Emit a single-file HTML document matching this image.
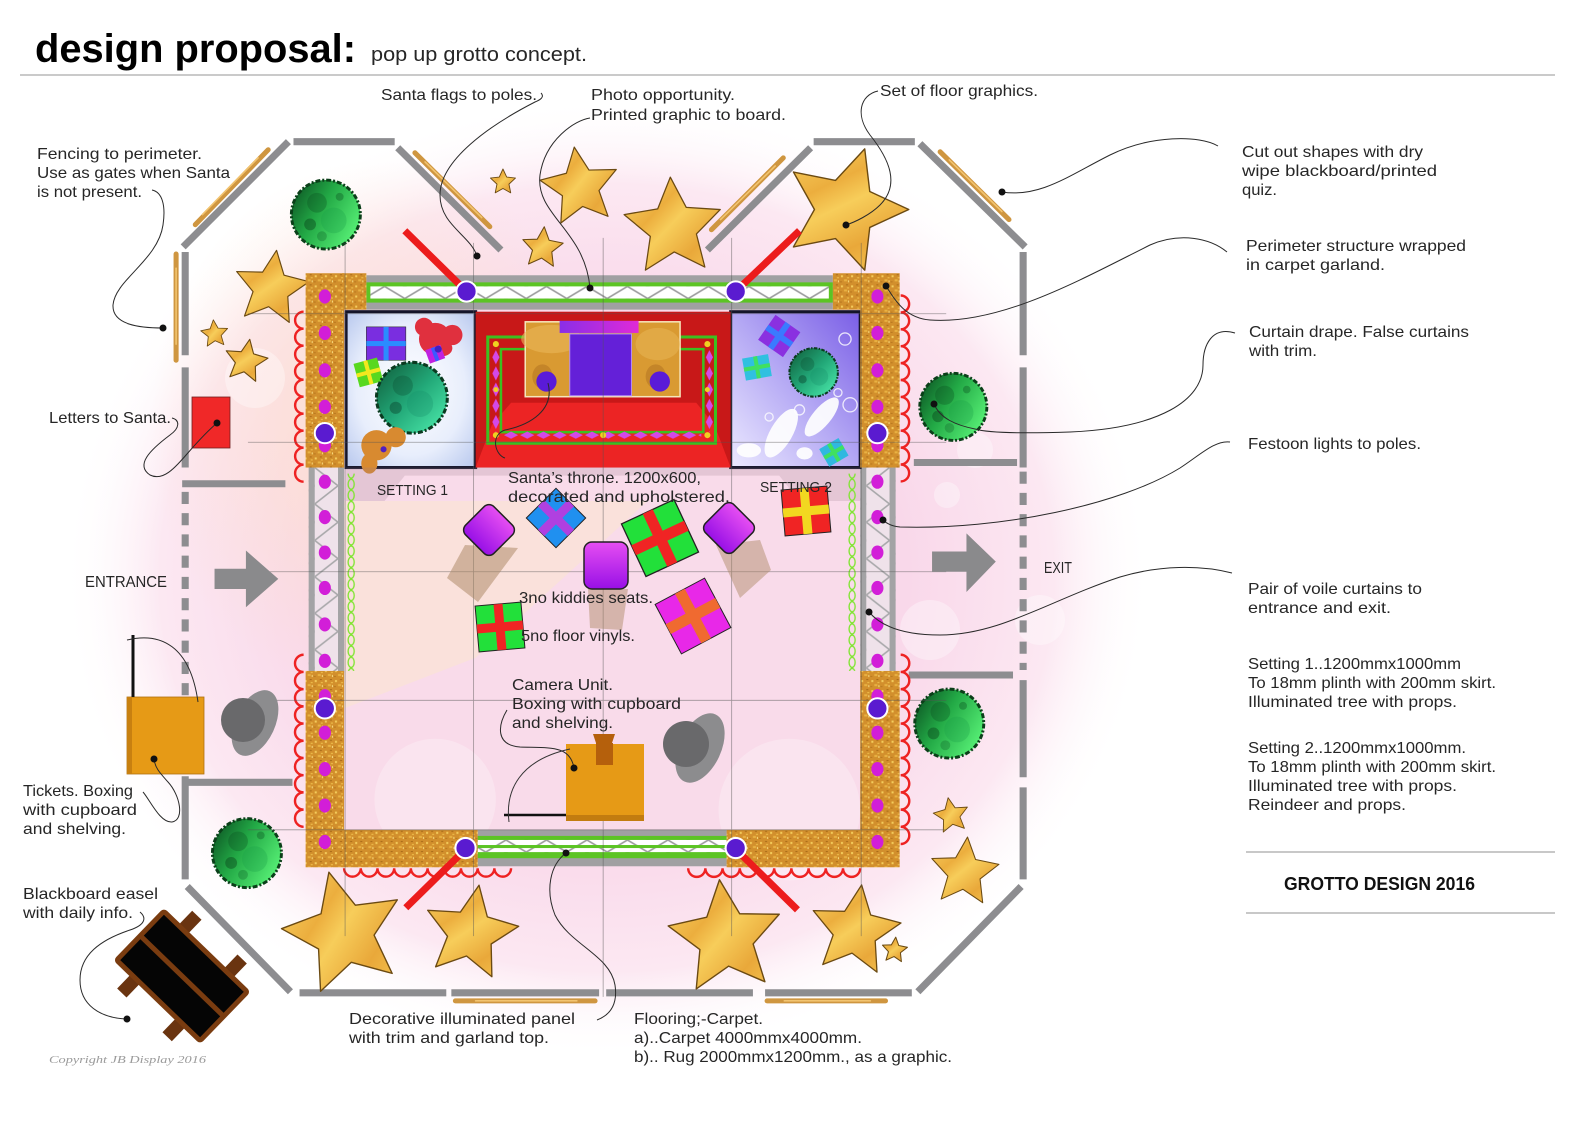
<!DOCTYPE html>
<html><head><meta charset="utf-8"><title>design proposal</title>
<style>
html,body{margin:0;padding:0;background:#fff;width:1587px;height:1122px;overflow:hidden}
svg{display:block}
.t{font-family:"Liberation Sans",Arial,sans-serif;font-size:16px;fill:#262626}
</style></head><body>
<svg xmlns="http://www.w3.org/2000/svg" width="1587" height="1122" viewBox="0 0 1587 1122">
<defs>
<radialGradient id="pg" cx="0.5" cy="0.5" r="0.5">
<stop offset="0" stop-color="#f7d0e5"/>
<stop offset="0.55" stop-color="#f9d8ea"/>
<stop offset="0.82" stop-color="#fce8f2"/>
<stop offset="1" stop-color="#ffffff" stop-opacity="0"/>
</radialGradient>
<radialGradient id="peach" cx="0.5" cy="0.5" r="0.5">
<stop offset="0" stop-color="#fde0cc" stop-opacity="0.9"/>
<stop offset="1" stop-color="#fde0cc" stop-opacity="0"/>
</radialGradient>
<linearGradient id="sg" x1="0" y1="0" x2="1" y2="1">
<stop offset="0" stop-color="#f8d768"/>
<stop offset="0.35" stop-color="#ecae3e"/>
<stop offset="0.5" stop-color="#f7cd5a"/>
<stop offset="0.75" stop-color="#e9a83a"/>
<stop offset="1" stop-color="#f5c652"/>
</linearGradient>
<linearGradient id="tg" x1="0" y1="0.2" x2="1" y2="0.8">
<stop offset="0" stop-color="#0e5a26"/>
<stop offset="0.4" stop-color="#22a845"/>
<stop offset="1" stop-color="#5cf77a"/>
</linearGradient>
<linearGradient id="tg2" x1="0" y1="0" x2="1" y2="1">
<stop offset="0" stop-color="#0f5a38"/>
<stop offset="0.5" stop-color="#22a878"/>
<stop offset="1" stop-color="#50f0b0"/>
</linearGradient>
<radialGradient id="s1g" cx="0.5" cy="0.5" r="0.7">
<stop offset="0" stop-color="#ffffff"/>
<stop offset="0.6" stop-color="#e8eefc"/>
<stop offset="1" stop-color="#b8c8ee"/>
</radialGradient>
<linearGradient id="s2g" x1="0" y1="1" x2="1" y2="0">
<stop offset="0" stop-color="#eceaff"/>
<stop offset="0.5" stop-color="#b4a8f4"/>
<stop offset="1" stop-color="#7a5ee6"/>
</linearGradient>
<linearGradient id="seat" x1="0" y1="0" x2="0" y2="1">
<stop offset="0" stop-color="#e64ef2"/>
<stop offset="1" stop-color="#9810e6"/>
</linearGradient>
<linearGradient id="mbar" x1="0" y1="0" x2="1" y2="0">
<stop offset="0" stop-color="#8a2ee6"/>
<stop offset="1" stop-color="#e02ad8"/>
</linearGradient>
<pattern id="gold" width="10" height="10" patternUnits="userSpaceOnUse">
<rect width="10" height="10" fill="#d28f2c"/>
<rect x="1" y="2" width="2" height="2" fill="#f4cc5c"/>
<rect x="6" y="1" width="2" height="1" fill="#a86a18"/>
<rect x="4" y="6" width="3" height="2" fill="#e9b242"/>
<rect x="8" y="7" width="1" height="2" fill="#f8dc80"/>
<rect x="0" y="8" width="2" height="1" fill="#b8781e"/>
<rect x="7" y="4" width="2" height="1" fill="#f0c24e"/>
</pattern>
<pattern id="zzh" width="40" height="12" patternUnits="userSpaceOnUse" x="0" y="283">
<rect width="40" height="12" fill="#fff"/>
<path d="M0,12 L20,0 L40,12" fill="none" stroke="#9c9c9e" stroke-width="1.6"/>
</pattern>
<pattern id="zzh2" width="40" height="12" patternUnits="userSpaceOnUse" x="0" y="830">
<rect width="40" height="12" fill="#fff"/>
<path d="M0,12 L20,0 L40,12" fill="none" stroke="#9c9c9e" stroke-width="1.6"/>
</pattern>
<pattern id="zzv" width="23" height="36" patternUnits="userSpaceOnUse" x="311" y="462">
<rect width="23" height="36" fill="#efe2ea"/>
<path d="M0,0 L23,18 L0,36" fill="none" stroke="#a8a8aa" stroke-width="1.6"/>
</pattern>
<pattern id="zzv2" width="23" height="36" patternUnits="userSpaceOnUse" x="856" y="462">
<rect width="23" height="36" fill="#efe2ea"/>
<path d="M23,0 L0,18 L23,36" fill="none" stroke="#a8a8aa" stroke-width="1.6"/>
</pattern>
<pattern id="chain" width="8" height="11" patternUnits="userSpaceOnUse" x="343" y="0">
<ellipse cx="4" cy="5.5" rx="3" ry="5" fill="none" stroke="#7ee52e" stroke-width="1.3"/>
</pattern>
<pattern id="chain2" width="8" height="11" patternUnits="userSpaceOnUse" x="838" y="0">
<ellipse cx="4" cy="5.5" rx="3" ry="5" fill="none" stroke="#7ee52e" stroke-width="1.3"/>
</pattern>
<pattern id="dmh" width="16" height="8" patternUnits="userSpaceOnUse" x="497" y="426">
<path d="M1,4 L8,0.5 L15,4 L8,7.5 Z" fill="#d448e8"/>
</pattern>
<pattern id="dmv" width="8" height="16" patternUnits="userSpaceOnUse" x="486" y="345">
<path d="M4,1 L7.5,8 L4,15 L0.5,8 Z" fill="#d448e8"/>
</pattern>
<pattern id="dmv2" width="8" height="16" patternUnits="userSpaceOnUse" x="697" y="345">
<path d="M4,1 L7.5,8 L4,15 L0.5,8 Z" fill="#d448e8"/>
</pattern>
<path id="star" d="M0,-1 L0.282,-0.388 L0.951,-0.309 L0.456,0.148 L0.588,0.809 L0,0.48 L-0.588,0.809 L-0.456,0.148 L-0.951,-0.309 L-0.282,-0.388 Z"/>
<symbol id="tree" viewBox="-38 -38 76 76" overflow="visible">
<circle r="35" fill="url(#tg)" stroke="#0b3f19" stroke-width="3" stroke-dasharray="5 2 2 2"/>
<circle cx="-9" cy="-12" r="10" fill="#0b4a1d" opacity=".3"/>
<circle cx="8" cy="6" r="13" fill="#1aa048" opacity=".3"/>
<circle cx="-16" cy="10" r="6" fill="#083a16" opacity=".4"/>
<circle cx="14" cy="-18" r="4" fill="#0a4a1d" opacity=".35"/>
<circle cx="-4" cy="22" r="5" fill="#0d5a26" opacity=".3"/>
</symbol>
<symbol id="tree2" viewBox="-38 -38 76 76" overflow="visible">
<circle r="35" fill="url(#tg2)" stroke="#0b3a20" stroke-width="3" stroke-dasharray="5 2 2 2"/>
<circle cx="-9" cy="-12" r="10" fill="#0b4a2d" opacity=".3"/>
<circle cx="8" cy="6" r="13" fill="#16906a" opacity=".3"/>
<circle cx="-16" cy="10" r="6" fill="#083a26" opacity=".4"/>
</symbol>
</defs>

<rect width="1587" height="1122" fill="#fff"/>
<ellipse cx="607" cy="578" rx="545" ry="480" fill="url(#pg)"/>
<ellipse cx="380" cy="430" rx="230" ry="270" fill="url(#peach)"/>
<g fill="#fff" opacity="0.35">
<circle cx="947" cy="495" r="13"/><circle cx="975" cy="450" r="18"/><circle cx="255" cy="378" r="30"/>
<circle cx="930" cy="630" r="30"/><circle cx="1040" cy="620" r="25"/><circle cx="560" cy="340" r="40"/>
</g>

<g transform="scale(1.012)">
<rect x="340" y="306" width="510" height="514" fill="#f9dbea"/>
<polygon points="340,495 640,495 470,650 340,700" fill="#f9e3d6" opacity="0.75"/>
<circle cx="430" cy="790" r="60" fill="#fff" opacity="0.25"/>
<circle cx="780" cy="800" r="70" fill="#fff" opacity="0.25"/>

<g stroke="#8d8d90" stroke-width="7" fill="none">
<line x1="181" y1="244" x2="285" y2="140"/>
<line x1="290" y1="140" x2="390" y2="140"/>
<line x1="393" y1="146" x2="495" y2="247"/>
<line x1="699" y1="247" x2="801" y2="146"/>
<line x1="804" y1="140" x2="904" y2="140"/>
<line x1="909" y1="142" x2="1013" y2="244"/>
<line x1="183" y1="249" x2="183" y2="351"/>
<line x1="183" y1="363" x2="183" y2="462"/>
<line x1="180" y1="478" x2="282" y2="478"/>
<line x1="183" y1="486" x2="183" y2="700" stroke-dasharray="12 9"/>
<line x1="186" y1="773" x2="289" y2="773"/>
<line x1="183" y1="767" x2="183" y2="869"/>
<line x1="185" y1="876" x2="287" y2="980"/>
<line x1="296" y1="981" x2="441" y2="981"/>
<line x1="446" y1="981" x2="592" y2="981"/>
<line x1="599" y1="981" x2="744" y2="981"/>
<line x1="756" y1="981" x2="901" y2="981"/>
<line x1="1009" y1="876" x2="907" y2="980"/>
<line x1="1011" y1="249" x2="1011" y2="351"/>
<line x1="1011" y1="363" x2="1011" y2="462"/>
<line x1="903" y1="457" x2="1005" y2="457"/>
<line x1="1011" y1="466" x2="1011" y2="662" stroke-dasharray="12 9"/>
<line x1="898" y1="667" x2="1001" y2="667"/>
<line x1="1011" y1="672" x2="1011" y2="768"/>
<line x1="1011" y1="778" x2="1011" y2="869"/>
</g>
<g stroke="#cf9640" stroke-width="5" stroke-linecap="round">
<line x1="193" y1="222" x2="265" y2="148"/>
<line x1="174" y1="251" x2="174" y2="356"/>
<line x1="410" y1="151" x2="484" y2="224"/>
<line x1="703" y1="227" x2="774" y2="156"/>
<line x1="929" y1="150" x2="997" y2="217"/>
<line x1="450" y1="989" x2="588" y2="989"/>
<line x1="758" y1="989" x2="875" y2="989"/>
</g>
<g stroke="#f2c470" stroke-width="1.6" stroke-linecap="round">
<line x1="200" y1="212" x2="255" y2="156"/>
<line x1="174" y1="265" x2="174" y2="340"/>
<line x1="420" y1="160" x2="476" y2="215"/>
<line x1="712" y1="217" x2="766" y2="164"/>
<line x1="938" y1="158" x2="990" y2="209"/>
<line x1="470" y1="989" x2="570" y2="989"/>
<line x1="775" y1="989" x2="860" y2="989"/>
</g>

<g fill="url(#sg)" stroke="#6b4a12" stroke-linejoin="round">
<use href="#star" stroke-width="0.03" transform="translate(268,285) rotate(8) scale(38)"/>
<use href="#star" stroke-width="0.06" transform="translate(212,330) rotate(-5) scale(14)"/>
<use href="#star" stroke-width="0.05" transform="translate(243,357) rotate(10) scale(22)"/>
<use href="#star" stroke-width="0.07" transform="translate(497,180) rotate(0) scale(13)"/>
<use href="#star" stroke-width="0.03" transform="translate(573,185) rotate(-8) scale(40)"/>
<use href="#star" stroke-width="0.05" transform="translate(536,245) rotate(5) scale(21)"/>
<use href="#star" stroke-width="0.025" transform="translate(665,225) rotate(-3) scale(50)"/>
<use href="#star" stroke-width="0.022" transform="translate(835,207) rotate(18) scale(63)"/>
<use href="#star" stroke-width="0.05" transform="translate(940,806) rotate(-10) scale(18)"/>
<use href="#star" stroke-width="0.03" transform="translate(953,862) rotate(5) scale(35)"/>
</g>

<use href="#tree" x="285" y="175" width="74" height="74"/>
<use href="#tree" x="906" y="366" width="72" height="72"/>
<use href="#tree" x="901" y="678" width="74" height="74"/>
<use href="#tree" x="207" y="806" width="74" height="74"/>

<rect x="305" y="460" width="35" height="205" fill="url(#zzv)"/>
<rect x="305" y="460" width="6" height="205" fill="#a3a3a5"/>
<rect x="334" y="460" width="6" height="205" fill="#a3a3a5"/>
<rect x="850" y="460" width="35" height="205" fill="url(#zzv2)"/>
<rect x="850" y="460" width="6" height="205" fill="#a3a3a5"/>
<rect x="879" y="460" width="6" height="205" fill="#a3a3a5"/>

<rect x="362" y="272" width="461" height="34" fill="#a0a0a2"/>
<rect x="362" y="279" width="461" height="20" fill="#5cc424"/>
<rect x="366" y="283" width="453" height="12" fill="url(#zzh)"/>
<rect x="472" y="820" width="246" height="36" fill="#a0a0a2"/>
<rect x="472" y="826" width="246" height="22" fill="#5cc424"/>
<rect x="472" y="830" width="246" height="12" fill="url(#zzh2)"/>
<rect x="472" y="835" width="246" height="3" fill="#5cc424"/>

<rect x="342" y="308" width="128" height="154" fill="url(#s1g)" stroke="#15152a" stroke-width="3"/>
<rect x="722" y="308" width="128" height="154" fill="url(#s2g)" stroke="#15152a" stroke-width="3"/>
<rect x="470" y="308" width="252" height="154" fill="#c81818"/>
<polygon points="470,462 722,462 706,420 688,398 505,398 486,420" fill="#ec2424"/>
<rect x="482" y="333" width="225" height="105" fill="none" stroke="#3cc020" stroke-width="3"/>
<rect x="495" y="345" width="200" height="82" fill="none" stroke="#3cc020" stroke-width="2.5"/>
<rect x="497" y="426" width="196" height="8" fill="url(#dmh)"/>
<rect x="486" y="345" width="8" height="82" fill="url(#dmv)"/>
<rect x="697" y="345" width="8" height="82" fill="url(#dmv2)"/>
<g fill="#f0d020"><circle cx="490" cy="340" r="3"/><circle cx="699" cy="340" r="3"/><circle cx="490" cy="430" r="3"/><circle cx="699" cy="430" r="3"/><circle cx="596" cy="430" r="3"/><circle cx="490" cy="385" r="2.5"/><circle cx="699" cy="385" r="2.5"/></g>
<rect x="519" y="318" width="153" height="74" fill="#d99a32" stroke="#f6e6bc" stroke-width="1.5"/>
<ellipse cx="545" cy="335" rx="30" ry="14" fill="#eab858" opacity=".6"/>
<ellipse cx="650" cy="340" rx="22" ry="16" fill="#eab858" opacity=".5"/>
<rect x="563" y="330" width="61" height="61" fill="#6420d8" stroke="#b58af2" stroke-width="1"/>
<rect x="553" y="317" width="78" height="12" fill="url(#mbar)"/>
<ellipse cx="536" cy="372" rx="10" ry="12" fill="#b07020" opacity=".5"/>
<ellipse cx="648" cy="372" rx="10" ry="12" fill="#b07020" opacity=".5"/>
<circle cx="540" cy="377" r="10" fill="#5a1bd8"/>
<circle cx="652" cy="377" r="10" fill="#5a1bd8"/>

<rect x="362" y="323" width="39" height="33" fill="#7a2ee0" stroke="#333" stroke-width="0.6"/>
<rect x="379" y="323" width="5" height="33" fill="#2a8cff"/>
<rect x="362" y="337" width="39" height="5" fill="#2a8cff"/>
<g fill="#e0303e"><circle cx="430" cy="335" r="16"/><circle cx="419" cy="323" r="9"/><circle cx="447" cy="331" r="10"/><ellipse cx="437" cy="344" rx="10" ry="8"/></g>
<g transform="translate(430,350) rotate(-20)"><rect x="-8" y="-7" width="16" height="14" fill="#c020e0"/><rect x="-2" y="-7" width="4" height="14" fill="#3a5aff"/></g>
<circle cx="433" cy="345" r="3.5" fill="#4020c0"/>
<g transform="translate(364,368) rotate(-15)"><rect x="-12" y="-12" width="24" height="24" fill="#58d820"/><rect x="-2" y="-12" width="4" height="24" fill="#f2e81e"/><rect x="-12" y="-2" width="24" height="4" fill="#f2e81e"/></g>
<use href="#tree2" x="369" y="355" width="76" height="76"/>
<g fill="#d88a30"><circle cx="372" cy="440" r="15"/><circle cx="391" cy="432" r="10"/><ellipse cx="365" cy="458" rx="8" ry="10"/></g>
<circle cx="379" cy="444" r="3" fill="#5020c0"/>

<g fill="none" stroke="#fff" stroke-width="1.3" opacity=".8"><circle cx="835" cy="335" r="6"/><circle cx="840" cy="400" r="7"/><circle cx="790" cy="405" r="5"/><circle cx="828" cy="388" r="4"/><circle cx="760" cy="412" r="4"/></g>
<g transform="translate(770,332) rotate(35)"><rect x="-15" y="-15" width="30" height="30" fill="#8a30e0"/><rect x="-3" y="-15" width="6" height="30" fill="#3a7aff"/><rect x="-15" y="-3" width="30" height="6" fill="#3a7aff"/></g>
<g transform="translate(748,363) rotate(-10)"><rect x="-13" y="-11" width="26" height="22" fill="#30c0e0"/><rect x="-2" y="-11" width="4" height="22" fill="#40e060"/><rect x="-13" y="-2" width="26" height="4" fill="#40e060"/></g>
<use href="#tree2" x="778" y="342" width="52" height="52"/>
<g fill="#fff" opacity=".92">
<ellipse cx="772" cy="428" rx="11" ry="27" transform="rotate(30 772 428)"/>
<ellipse cx="812" cy="412" rx="9" ry="24" transform="rotate(40 812 412)"/>
<ellipse cx="740" cy="445" rx="12" ry="7"/>
<ellipse cx="795" cy="448" rx="8" ry="6"/>
</g>
<g transform="translate(824,447) rotate(-30)"><rect x="-11" y="-10" width="22" height="20" fill="#30b8e0"/><rect x="-2" y="-10" width="4" height="20" fill="#40e060"/><rect x="-11" y="-2" width="22" height="4" fill="#40e060"/></g>

<polygon points="342,462 850,462 850,495 790,495 770,470 400,470 380,495 342,495" fill="#9c7a8c" opacity=".22"/>

<rect x="343" y="468" width="8" height="195" fill="url(#chain)"/>
<rect x="838" y="468" width="8" height="195" fill="url(#chain2)"/>

<g fill="url(#gold)">
<rect x="302" y="270" width="38" height="192"/>
<rect x="338" y="270" width="24" height="36"/>
<rect x="850" y="270" width="39" height="192"/>
<rect x="823" y="270" width="29" height="36"/>
<rect x="302" y="663" width="38" height="194"/>
<rect x="338" y="820" width="134" height="37"/>
<rect x="850" y="663" width="39" height="194"/>
<rect x="718" y="820" width="134" height="37"/>
</g>

<g fill="none" stroke="#ee2222" stroke-width="2.4">
<path d="M300,308 a8.4,8.4 0 0 0 0,16.8 a8.4,8.4 0 0 0 0,16.8 a8.4,8.4 0 0 0 0,16.8 a8.4,8.4 0 0 0 0,16.8 a8.4,8.4 0 0 0 0,16.8 a8.4,8.4 0 0 0 0,16.8 a8.4,8.4 0 0 0 0,16.8 a8.4,8.4 0 0 0 0,16.8 a8.4,8.4 0 0 0 0,16.8 a8.4,8.4 0 0 0 0,16.8"/>
<path d="M300,647 a8.5,8.5 0 0 0 0,17 a8.5,8.5 0 0 0 0,17 a8.5,8.5 0 0 0 0,17 a8.5,8.5 0 0 0 0,17 a8.5,8.5 0 0 0 0,17 a8.5,8.5 0 0 0 0,17 a8.5,8.5 0 0 0 0,17 a8.5,8.5 0 0 0 0,17 a8.5,8.5 0 0 0 0,17 a8.5,8.5 0 0 0 0,17"/>
<path d="M890,292 a8.35,8.35 0 0 1 0,16.7 a8.35,8.35 0 0 1 0,16.7 a8.35,8.35 0 0 1 0,16.7 a8.35,8.35 0 0 1 0,16.7 a8.35,8.35 0 0 1 0,16.7 a8.35,8.35 0 0 1 0,16.7 a8.35,8.35 0 0 1 0,16.7 a8.35,8.35 0 0 1 0,16.7 a8.35,8.35 0 0 1 0,16.7 a8.35,8.35 0 0 1 0,16.7 a8.35,8.35 0 0 1 0,16.7"/>
<path d="M890,647 a8.5,8.5 0 0 1 0,17 a8.5,8.5 0 0 1 0,17 a8.5,8.5 0 0 1 0,17 a8.5,8.5 0 0 1 0,17 a8.5,8.5 0 0 1 0,17 a8.5,8.5 0 0 1 0,17 a8.5,8.5 0 0 1 0,17 a8.5,8.5 0 0 1 0,17 a8.5,8.5 0 0 1 0,17 a8.5,8.5 0 0 1 0,17 a8.5,8.5 0 0 1 0,17"/>
<path d="M340,858 a8.25,8.25 0 0 0 16.5,0 a8.25,8.25 0 0 0 16.5,0 a8.25,8.25 0 0 0 16.5,0 a8.25,8.25 0 0 0 16.5,0 a8.25,8.25 0 0 0 16.5,0 a8.25,8.25 0 0 0 16.5,0 a8.25,8.25 0 0 0 16.5,0 a8.25,8.25 0 0 0 16.5,0 a8.25,8.25 0 0 0 16.5,0 a8.25,8.25 0 0 0 16.5,0"/>
<path d="M680,858 a8.5,8.5 0 0 0 17,0 a8.5,8.5 0 0 0 17,0 a8.5,8.5 0 0 0 17,0 a8.5,8.5 0 0 0 17,0 a8.5,8.5 0 0 0 17,0 a8.5,8.5 0 0 0 17,0 a8.5,8.5 0 0 0 17,0 a8.5,8.5 0 0 0 17,0 a8.5,8.5 0 0 0 17,0 a8.5,8.5 0 0 0 17,0"/>
</g>

<g fill="#d21ed8">
<ellipse cx="321" cy="293" rx="6" ry="7"/><ellipse cx="321" cy="329" rx="6" ry="7"/><ellipse cx="321" cy="366" rx="6" ry="7"/><ellipse cx="321" cy="402" rx="6" ry="7"/><ellipse cx="321" cy="440" rx="6" ry="7"/><ellipse cx="321" cy="476" rx="6" ry="7"/><ellipse cx="321" cy="511" rx="6" ry="7"/><ellipse cx="321" cy="546" rx="6" ry="7"/><ellipse cx="321" cy="581" rx="6" ry="7"/><ellipse cx="321" cy="617" rx="6" ry="7"/><ellipse cx="321" cy="653" rx="6" ry="7"/><ellipse cx="321" cy="688" rx="6" ry="7"/><ellipse cx="321" cy="724" rx="6" ry="7"/><ellipse cx="321" cy="760" rx="6" ry="7"/><ellipse cx="321" cy="796" rx="6" ry="7"/><ellipse cx="321" cy="832" rx="6" ry="7"/>
<ellipse cx="867" cy="293" rx="6" ry="7"/><ellipse cx="867" cy="329" rx="6" ry="7"/><ellipse cx="867" cy="366" rx="6" ry="7"/><ellipse cx="867" cy="402" rx="6" ry="7"/><ellipse cx="867" cy="440" rx="6" ry="7"/><ellipse cx="867" cy="476" rx="6" ry="7"/><ellipse cx="867" cy="511" rx="6" ry="7"/><ellipse cx="867" cy="546" rx="6" ry="7"/><ellipse cx="867" cy="581" rx="6" ry="7"/><ellipse cx="867" cy="617" rx="6" ry="7"/><ellipse cx="867" cy="653" rx="6" ry="7"/><ellipse cx="867" cy="688" rx="6" ry="7"/><ellipse cx="867" cy="724" rx="6" ry="7"/><ellipse cx="867" cy="760" rx="6" ry="7"/><ellipse cx="867" cy="796" rx="6" ry="7"/><ellipse cx="867" cy="832" rx="6" ry="7"/>
</g>

<g fill="url(#sg)" stroke="#6b4a12" stroke-linejoin="round">
<use href="#star" stroke-width="0.022" transform="translate(340,922) rotate(-14) scale(62)"/>
<use href="#star" stroke-width="0.028" transform="translate(465,922) rotate(10) scale(48)"/>
<use href="#star" stroke-width="0.024" transform="translate(717,927) rotate(-6) scale(58)"/>
<use href="#star" stroke-width="0.028" transform="translate(845,920) rotate(8) scale(46)"/>
<use href="#star" stroke-width="0.08" transform="translate(884,939) rotate(5) scale(13)"/>
</g>

<g stroke="#555" stroke-width="0.8" opacity="0.55">
<line x1="341" y1="240" x2="341" y2="925"/>
<line x1="468" y1="240" x2="468" y2="925"/>
<line x1="596" y1="235" x2="596" y2="985"/>
<line x1="723" y1="235" x2="723" y2="925"/>
<line x1="851" y1="240" x2="851" y2="925"/>
<line x1="245" y1="310" x2="935" y2="310"/>
<line x1="245" y1="437" x2="935" y2="437"/>
<line x1="245" y1="565" x2="935" y2="565"/>
<line x1="245" y1="692" x2="935" y2="692"/>
<line x1="245" y1="820" x2="935" y2="820"/>
</g>

<polygon points="212,562 243,562 243,544 275,572 243,600 243,582 212,582" fill="#8a8a8c"/>
<polygon points="921,545 955,545 955,527 984,555 955,585 955,565 921,565" fill="#8a8a8c"/>

<g stroke="#ec1c1c" stroke-width="7">
<line x1="461" y1="288" x2="400" y2="228"/>
<line x1="727" y1="288" x2="790" y2="228"/>
<line x1="456" y1="843" x2="401" y2="897"/>
<line x1="731" y1="843" x2="788" y2="899"/>
</g>
<g fill="#5a1bd0" stroke="#fff" stroke-width="2">
<circle cx="461" cy="288" r="10"/><circle cx="727" cy="288" r="10"/>
<circle cx="321" cy="428" r="10"/><circle cx="867" cy="428" r="10"/>
<circle cx="321" cy="700" r="10"/><circle cx="867" cy="700" r="10"/>
<circle cx="460" cy="838" r="10"/><circle cx="727" cy="838" r="10"/>
</g>
</g>

<polygon points="465,545 518,548 478,602 447,578" fill="#a88460" opacity=".5"/>
<polygon points="716,545 760,540 771,570 740,598" fill="#a88460" opacity=".45"/>
<polygon points="588,589 628,589 622,630 590,628" fill="#a88460" opacity=".45"/>
<g transform="translate(489,530) rotate(45)"><rect x="-20" y="-20" width="40" height="40" rx="7" fill="url(#seat)" stroke="#222" stroke-width="1.5"/></g>
<g transform="translate(729,528) rotate(45)"><rect x="-20" y="-20" width="40" height="40" rx="7" fill="url(#seat)" stroke="#222" stroke-width="1.5"/></g>
<rect x="584" y="542" width="44" height="47" rx="8" fill="url(#seat)" stroke="#222" stroke-width="1.5"/>
<g transform="translate(556,518) rotate(45)"><rect x="-21" y="-21" width="42" height="42" fill="#2090f0" stroke="#222" stroke-width="1"/><rect x="-4.5" y="-21" width="9" height="42" fill="#b040e0"/><rect x="-21" y="-4.5" width="42" height="9" fill="#b040e0"/></g>
<g transform="translate(660,538) rotate(-25)"><rect x="-29" y="-29" width="58" height="58" fill="#22e03a" stroke="#222" stroke-width="1.3"/><rect x="-5.5" y="-29" width="11" height="58" fill="#f02424"/><rect x="-29" y="-5.5" width="58" height="11" fill="#f02424"/></g>
<g transform="translate(806,511) rotate(-5)"><rect x="-23" y="-23" width="46" height="46" fill="#f02424" stroke="#222" stroke-width="1"/><rect x="-4.5" y="-23" width="9" height="46" fill="#f2d820"/><rect x="-23" y="-4.5" width="46" height="9" fill="#f2d820"/></g>
<g transform="translate(500,627) rotate(-5)"><rect x="-23" y="-23" width="46" height="46" fill="#22e03a" stroke="#222" stroke-width="1"/><rect x="-4.5" y="-23" width="9" height="46" fill="#f02424"/><rect x="-23" y="-4.5" width="46" height="9" fill="#f02424"/></g>
<g transform="translate(693,616) rotate(-28)"><rect x="-28" y="-28" width="56" height="56" fill="#e828e8" stroke="#222" stroke-width="1"/><rect x="-5.5" y="-28" width="11" height="56" fill="#f06a30"/><rect x="-28" y="-5.5" width="56" height="11" fill="#f06a30"/></g>

<rect x="566" y="744" width="78" height="77" fill="#e69a16"/>
<rect x="566" y="815" width="78" height="6" fill="#c27c10"/>
<polygon points="593,734 615,734 612,743 596,743" fill="#b5600c"/>
<rect x="596" y="743" width="17" height="22" fill="#b5600c"/>
<line x1="504" y1="815" x2="566" y2="815" stroke="#111" stroke-width="2.5"/>
<path d="M509,822 C505,790 520,760 570,749" fill="none" stroke="#333" stroke-width="1"/>
<ellipse cx="700" cy="748" rx="21" ry="37" transform="rotate(25 700 748)" fill="#8c8c8e"/>
<circle cx="686" cy="744" r="23" fill="#69696b"/>
<ellipse cx="255" cy="723" rx="20" ry="35" transform="rotate(25 255 723)" fill="#8c8c8e"/>
<circle cx="243" cy="720" r="22" fill="#69696b"/>

<rect x="127" y="697" width="77" height="77" fill="#e69a16" stroke="#b07010" stroke-width="0.8"/>
<rect x="127" y="697" width="5" height="77" fill="#c88010"/>
<line x1="133" y1="635" x2="133" y2="697" stroke="#111" stroke-width="3"/>
<rect x="192" y="397" width="38" height="51" fill="#f02828" stroke="#702020" stroke-width="0.8"/>
<g transform="translate(182,976) rotate(44)">
<rect x="-38" y="-54" width="13" height="108" fill="#6a3410"/>
<rect x="25" y="-54" width="13" height="108" fill="#6a3410"/>
<rect x="-58" y="-34" width="116" height="68" rx="2" fill="#050505" stroke="#7a3c10" stroke-width="5"/>
<line x1="-58" y1="0" x2="58" y2="0" stroke="#7a3c10" stroke-width="5"/>
</g>

<g fill="none" stroke="#2a2a2a" stroke-width="1">
<path d="M541,93 C545,97 540,100 535,102 C490,125 440,160 440,195 C440,225 470,235 477,256"/>
<path d="M590,118 C575,120 545,140 540,175 C535,215 585,230 590,288"/>
<path d="M878,91 C860,95 855,115 870,135 C890,160 900,185 880,205 C870,215 855,222 846,225"/>
<path d="M1218,146 C1200,135 1150,135 1110,155 C1070,175 1040,198 1002,192"/>
<path d="M1227,252 C1210,238 1180,232 1150,245 C1080,280 1000,325 930,320 C905,318 895,300 886,286"/>
<path d="M1235,333 C1212,326 1203,345 1203,365 C1203,400 1160,428 1070,432 C1010,434 985,432 975,429 C955,425 940,418 934,404"/>
<path d="M1230,442 C1215,440 1200,455 1180,468 C1120,505 1000,530 900,527 C890,526 885,522 883,520"/>
<path d="M1232,573 C1200,565 1160,565 1120,577 C1050,600 1000,635 940,635 C900,635 880,625 869,612"/>
<path d="M152,190 C162,192 166,205 163,225 C158,260 115,280 113,305 C112,325 140,328 163,328"/>
<path d="M172,418 C180,420 180,428 170,435 C150,450 135,465 150,475 C170,485 185,450 217,423"/>
<path d="M143,792 C150,800 160,823 172,822 C185,820 180,795 168,782 C160,773 155,768 154,759"/>
<path d="M127,640 C160,632 190,645 198,702"/>
<path d="M140,912 C147,918 145,925 130,930 C100,940 80,955 80,980 C80,1005 100,1018 127,1019"/>
<path d="M597,1020 C610,1015 618,1005 615,985 C610,955 570,945 555,915 C545,890 550,865 566,853"/>
<path d="M507,710 C498,725 495,745 520,747 C550,748 570,745 574,768"/>
<path d="M548,383 C555,410 530,425 505,430 C490,435 495,455 505,458"/>
</g>
<g fill="#111">
<circle cx="477" cy="256" r="3.5"/><circle cx="590" cy="288" r="3.5"/><circle cx="846" cy="225" r="3.5"/>
<circle cx="1002" cy="192" r="3.5"/><circle cx="886" cy="286" r="3.5"/><circle cx="934" cy="404" r="3.5"/>
<circle cx="883" cy="520" r="3.5"/><circle cx="869" cy="612" r="3.5"/><circle cx="163" cy="328" r="3.5"/>
<circle cx="217" cy="423" r="3.5"/><circle cx="154" cy="759" r="3.5"/><circle cx="127" cy="1019" r="3.5"/>
<circle cx="566" cy="853" r="3.5"/><circle cx="574" cy="768" r="3.5"/>
</g>

<text x="35" y="62" font-family="Liberation Sans, Arial, sans-serif" font-weight="bold" font-size="40" fill="#000" textLength="321" lengthAdjust="spacingAndGlyphs">design proposal:</text>
<text x="371" y="61" class="t" textLength="216" lengthAdjust="spacingAndGlyphs" style="font-size:20px">pop up grotto concept.</text>
<line x1="20" y1="75" x2="1555" y2="75" stroke="#b8b8b8" stroke-width="1.5"/>

<g>
<text class="t" x="381" y="100" textLength="156" lengthAdjust="spacingAndGlyphs">Santa flags to poles.</text>
<text class="t" x="591" y="100" textLength="144" lengthAdjust="spacingAndGlyphs">Photo opportunity.</text>
<text class="t" x="591" y="120" textLength="195" lengthAdjust="spacingAndGlyphs">Printed graphic to board.</text>
<text class="t" x="880" y="96" textLength="158" lengthAdjust="spacingAndGlyphs">Set of floor graphics.</text>
<text class="t" x="37" y="159" textLength="165" lengthAdjust="spacingAndGlyphs">Fencing to perimeter.</text>
<text class="t" x="37" y="178" textLength="193" lengthAdjust="spacingAndGlyphs">Use as gates when Santa</text>
<text class="t" x="37" y="197" textLength="105" lengthAdjust="spacingAndGlyphs">is not present.</text>
<text class="t" x="49" y="423" textLength="122" lengthAdjust="spacingAndGlyphs">Letters to Santa.</text>
<text class="t" x="85" y="587" textLength="82" lengthAdjust="spacingAndGlyphs">ENTRANCE</text>
<text class="t" x="1044" y="573" textLength="28" lengthAdjust="spacingAndGlyphs">EXIT</text>
<text class="t" x="23" y="796" textLength="110" lengthAdjust="spacingAndGlyphs">Tickets. Boxing</text>
<text class="t" x="23" y="815" textLength="114" lengthAdjust="spacingAndGlyphs">with cupboard</text>
<text class="t" x="23" y="834" textLength="103" lengthAdjust="spacingAndGlyphs">and shelving.</text>
<text class="t" x="23" y="899" textLength="135" lengthAdjust="spacingAndGlyphs">Blackboard easel</text>
<text class="t" x="23" y="918" textLength="110" lengthAdjust="spacingAndGlyphs">with daily info.</text>
<text x="49" y="1063" font-family="Liberation Serif, serif" font-style="italic" font-size="11" fill="#9a9a9a" textLength="157" lengthAdjust="spacingAndGlyphs">Copyright JB Display 2016</text>
<text class="t" x="349" y="1024" textLength="226" lengthAdjust="spacingAndGlyphs">Decorative illuminated panel</text>
<text class="t" x="349" y="1043" textLength="200" lengthAdjust="spacingAndGlyphs">with trim and garland top.</text>
<text class="t" x="634" y="1024" textLength="129" lengthAdjust="spacingAndGlyphs">Flooring;-Carpet.</text>
<text class="t" x="634" y="1043" textLength="228" lengthAdjust="spacingAndGlyphs">a)..Carpet 4000mmx4000mm.</text>
<text class="t" x="634" y="1062" textLength="318" lengthAdjust="spacingAndGlyphs">b).. Rug 2000mmx1200mm., as a graphic.</text>

<text class="t" x="1242" y="157" textLength="181" lengthAdjust="spacingAndGlyphs">Cut out shapes with dry</text>
<text class="t" x="1242" y="176" textLength="195" lengthAdjust="spacingAndGlyphs">wipe blackboard/printed</text>
<text class="t" x="1242" y="195" textLength="35" lengthAdjust="spacingAndGlyphs">quiz.</text>
<text class="t" x="1246" y="251" textLength="220" lengthAdjust="spacingAndGlyphs">Perimeter structure wrapped</text>
<text class="t" x="1246" y="270" textLength="139" lengthAdjust="spacingAndGlyphs">in carpet garland.</text>
<text class="t" x="1249" y="337" textLength="220" lengthAdjust="spacingAndGlyphs">Curtain drape. False curtains</text>
<text class="t" x="1249" y="356" textLength="68" lengthAdjust="spacingAndGlyphs">with trim.</text>
<text class="t" x="1248" y="449" textLength="173" lengthAdjust="spacingAndGlyphs">Festoon lights to poles.</text>
<text class="t" x="1248" y="594" textLength="174" lengthAdjust="spacingAndGlyphs">Pair of voile curtains to</text>
<text class="t" x="1248" y="613" textLength="143" lengthAdjust="spacingAndGlyphs">entrance and exit.</text>
<text class="t" x="1248" y="669" textLength="213" lengthAdjust="spacingAndGlyphs">Setting 1..1200mmx1000mm</text>
<text class="t" x="1248" y="688" textLength="248" lengthAdjust="spacingAndGlyphs">To 18mm plinth with 200mm skirt.</text>
<text class="t" x="1248" y="707" textLength="209" lengthAdjust="spacingAndGlyphs">Illuminated tree with props.</text>
<text class="t" x="1248" y="753" textLength="218" lengthAdjust="spacingAndGlyphs">Setting 2..1200mmx1000mm.</text>
<text class="t" x="1248" y="772" textLength="248" lengthAdjust="spacingAndGlyphs">To 18mm plinth with 200mm skirt.</text>
<text class="t" x="1248" y="791" textLength="209" lengthAdjust="spacingAndGlyphs">Illuminated tree with props.</text>
<text class="t" x="1248" y="810" textLength="158" lengthAdjust="spacingAndGlyphs">Reindeer and props.</text>

<text class="t" x="377" y="495" textLength="71" lengthAdjust="spacingAndGlyphs" style="font-size:15px">SETTING 1</text>
<text class="t" x="760" y="492" textLength="72" lengthAdjust="spacingAndGlyphs" style="font-size:15px">SETTING 2</text>
<text class="t" x="508" y="483" textLength="193" lengthAdjust="spacingAndGlyphs">Santa’s throne. 1200x600,</text>
<text class="t" x="508" y="502" textLength="222" lengthAdjust="spacingAndGlyphs">decorated and upholstered.</text>
<text class="t" x="519" y="603" textLength="134" lengthAdjust="spacingAndGlyphs">3no kiddies seats.</text>
<text class="t" x="521" y="641" textLength="114" lengthAdjust="spacingAndGlyphs">5no floor vinyls.</text>
<text class="t" x="512" y="690" textLength="101" lengthAdjust="spacingAndGlyphs">Camera Unit.</text>
<text class="t" x="512" y="709" textLength="169" lengthAdjust="spacingAndGlyphs">Boxing with cupboard</text>
<text class="t" x="512" y="728" textLength="101" lengthAdjust="spacingAndGlyphs">and shelving.</text>
</g>

<line x1="1246" y1="852" x2="1555" y2="852" stroke="#c8c8c8" stroke-width="2"/>
<text x="1284" y="890" font-family="Liberation Sans, Arial, sans-serif" font-weight="bold" font-size="18" fill="#111" textLength="191" lengthAdjust="spacingAndGlyphs">GROTTO DESIGN 2016</text>
<line x1="1246" y1="913" x2="1555" y2="913" stroke="#c8c8c8" stroke-width="2"/>
</svg>
</body></html>
